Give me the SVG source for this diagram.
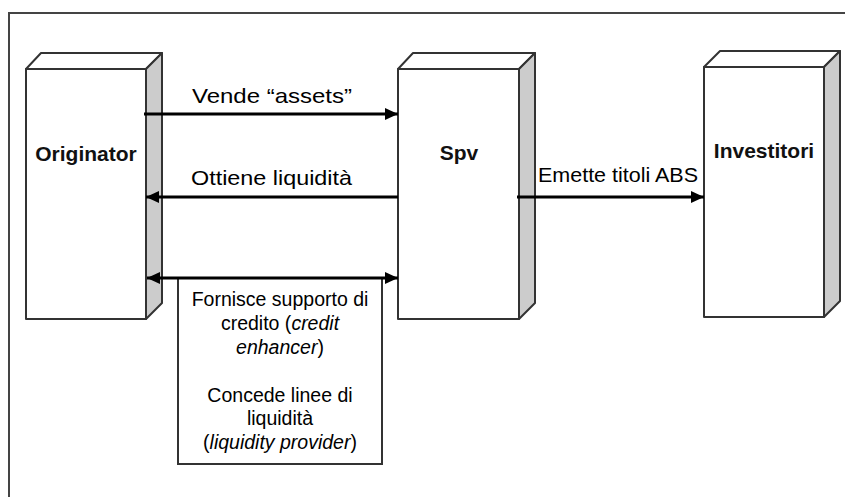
<svg xmlns="http://www.w3.org/2000/svg" width="845" height="497" viewBox="0 0 845 497">
<style>
.face{fill:#fff;stroke:#333;stroke-width:2;stroke-linejoin:round}
.side{fill:#ccc;stroke:#333;stroke-width:2;stroke-linejoin:round}
.lbl{font-family:"Liberation Sans",Arial,sans-serif;font-size:21px;fill:#000}
.node{font-family:"Liberation Sans",Arial,sans-serif;font-size:21px;font-weight:bold;fill:#111;text-anchor:middle}
.note{font-family:"Liberation Sans",Arial,sans-serif;font-size:19.5px;fill:#000;text-anchor:middle}
.arr{stroke:#000;stroke-width:3;fill:none}
</style>
<defs>
<marker id="ah" markerUnits="userSpaceOnUse" markerWidth="14" markerHeight="12" refX="13" refY="6" orient="auto-start-reverse">
<path d="M0,0 L13,6 L0,12 Z" fill="#000"/>
</marker>
</defs>
<rect width="845" height="497" fill="#fff"/>
<g id="frame">
<path d="M9,497 L9,13 L845,13" fill="none" stroke="#444" stroke-width="2"/>
</g>
<g id="originator">
<polygon class="face" points="26,69 41,53 162,53 146,69"/>
<polygon class="side" points="146,69 162,53 162,303 146,319"/>
<rect class="face" x="26" y="69" width="120" height="250"/>
<text class="node" x="86" y="161">Originator</text>
</g>
<g id="spv">
<polygon class="face" points="398,69 413,53 535,53 519,69"/>
<polygon class="side" points="519,69 535,53 535,303 519,319"/>
<rect class="face" x="398" y="69" width="121" height="250"/>
<text class="node" x="459" y="160">Spv</text>
</g>
<g id="investitori">
<polygon class="face" points="704,67 720,51 840,51 824,67"/>
<polygon class="side" points="824,67 840,51 840,301 824,317"/>
<rect class="face" x="704" y="67" width="120" height="250"/>
<text class="node" x="764" y="158">Investitori</text>
</g>
<g id="note">
<rect x="178" y="278" width="204" height="186" fill="#fff" stroke="#333" stroke-width="2"/>
<text class="note" x="280" y="306">Fornisce supporto di</text>
<text class="note" x="280" y="330">credito (<tspan font-style="italic">credit</tspan></text>
<text class="note" x="280" y="354"><tspan font-style="italic">enhancer</tspan>)</text>
<text class="note" x="280" y="402">Concede linee di</text>
<text class="note" x="280" y="425">liquidità</text>
<text class="note" x="280" y="449">(<tspan font-style="italic">liquidity provider</tspan>)</text>
</g>
<g id="connectors">
<line class="arr" x1="144" y1="114" x2="398" y2="114" marker-end="url(#ah)"/>
<line class="arr" x1="398" y1="197" x2="146" y2="197" marker-end="url(#ah)"/>
<line class="arr" x1="517" y1="197" x2="704" y2="197" marker-end="url(#ah)"/>
<line class="arr" x1="147" y1="278" x2="398" y2="278" marker-start="url(#ah)" marker-end="url(#ah)"/>
<text class="lbl" x="192" y="103" textLength="160" lengthAdjust="spacingAndGlyphs">Vende “assets”</text>
<text class="lbl" x="191" y="185" textLength="161" lengthAdjust="spacingAndGlyphs">Ottiene liquidità</text>
<text class="lbl" x="538" y="182" textLength="160" lengthAdjust="spacingAndGlyphs">Emette titoli ABS</text>
</g>
</svg>
